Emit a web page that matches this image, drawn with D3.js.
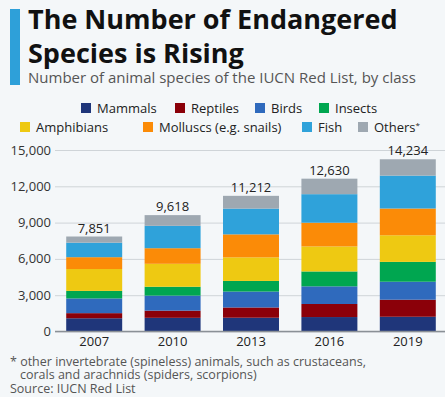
<!DOCTYPE html>
<html>
<head>
<meta charset="utf-8">
<script src="https://cdn.jsdelivr.net/npm/d3@7"></script>
<style>
  body { margin: 0; background: #f4f7f9; }
  svg { display: block; font-family: "Open Sans", sans-serif; }
</style>
</head>
<body>
<script>
// data
var years = ["2007", "2010", "2013", "2016", "2019"];
var classes = ["Mammals", "Reptiles", "Birds", "Insects", "Amphibians", "Molluscs (e.g. snails)", "Fish", "Others*"];
var mammals    = [1094, 1131, 1140, 1194, 1219];
var reptiles   = [422, 594, 847, 1079, 1409];
var birds      = [1217, 1240, 1313, 1460, 1486];
var insects    = [623, 733, 880, 1230, 1640];
var amphibians = [1808, 1898, 1948, 2068, 2200];
var molluscs   = [978, 1288, 1900, 1960, 2210];
var fish       = [1201, 1851, 2130, 2359, 2720];
var others     = [508, 883, 1054, 1280, 1350];
var totals     = [7851, 9618, 11212, 12630, 14234];
var yTicks     = [0, 3000, 6000, 9000, 12000, 15000];

var colors = ["#1f367a", "#8b0009", "#2f6abd", "#00a650", "#eec912", "#fb8b07", "#2fa2da", "#9ea8b1"];
var series = [mammals, reptiles, birds, insects, amphibians, molluscs, fish, others];

var W = 445, H = 397;
var svg = d3.select("body").append("svg").attr("width", W).attr("height", H);

svg.append("rect").attr("width", W).attr("height", H).attr("fill", "#f4f7f9");

// title block
svg.append("rect").attr("x", 10).attr("y", 9).attr("width", 10).attr("height", 76).attr("fill", "#2ea0d9");
svg.append("text").attr("x", 28).attr("y", 29).style("font-size", "27px").style("font-weight", "bold").attr("fill", "#111")
    .text("The Number of Endangered");
svg.append("text").attr("x", 28).attr("y", 63).style("font-size", "27px").style("font-weight", "bold").attr("fill", "#111")
    .text("Species is Rising");
svg.append("text").attr("x", 28).attr("y", 83).style("font-size", "15px").attr("fill", "#555")
    .text("Number of animal species of the IUCN Red List, by class");

// legend
var legendPos = [[81, 108], [175, 108], [255, 108], [319, 108], [20, 127], [143, 127], [302, 127], [358, 127]];
classes.forEach(function(c, i) {
  var g = svg.append("g").attr("transform", "translate(" + legendPos[i][0] + "," + legendPos[i][1] + ")");
  g.append("rect").attr("x", 0).attr("y", -5).attr("width", 10).attr("height", 10).attr("fill", colors[i]);
  g.append("text").attr("x", 16).attr("y", 0).attr("dy", "0.35em").style("font-size", "13px").attr("fill", "#222")
      .text(c.replace("*", ""))
    .filter(function() { return c.indexOf("*") >= 0; })
      .append("tspan").attr("dy", "-0.4em").style("font-size", "8px").text("*");
});

// scales
var x = d3.scaleBand().domain(years).range([55, 447]).paddingInner(0.286).paddingOuter(0.143);
var y = d3.scaleLinear().domain([0, 15000]).range([331.5, 150]);

// grid
svg.append("g")
    .attr("transform", "translate(55,0)")
    .call(d3.axisLeft(y).tickValues(yTicks).tickSize(-390).tickFormat(""))
    .call(function(g) { g.select(".domain").remove(); })
    .selectAll("line").attr("stroke", "#cfd4d8").attr("stroke-width", 1);

svg.append("g")
    .selectAll("text").data(yTicks).enter().append("text")
    .attr("x", 51).attr("y", function(d) { return y(d); }).attr("dy", "0.35em")
    .attr("text-anchor", "end").style("font-size", "13px").attr("fill", "#333")
    .text(d3.format(","));

// stacked bars
var rows = years.map(function(yr, j) {
  var r = { year: yr };
  classes.forEach(function(c, i) { r[c] = series[i][j]; });
  return r;
});
var stack = d3.stack().keys(classes)(rows);

svg.append("g").selectAll("g").data(stack).enter().append("g")
    .attr("fill", function(d, i) { return colors[i]; })
  .selectAll("rect").data(function(d) { return d; }).enter().append("rect")
    .attr("x", function(d) { return x(d.data.year); })
    .attr("width", x.bandwidth())
    .attr("y", function(d) { return y(d[1]); })
    .attr("height", function(d) { return y(d[0]) - y(d[1]); });

// totals
svg.append("g").selectAll("text").data(years).enter().append("text")
    .attr("x", function(d) { return x(d) + x.bandwidth() / 2; })
    .attr("y", function(d, i) { return y(totals[i]) - 4; })
    .attr("text-anchor", "middle").style("font-size", "13px").attr("fill", "#222")
    .text(function(d, i) { return d3.format(",")(totals[i]); });

// x axis
svg.append("line").attr("x1", 55).attr("x2", 445).attr("y1", 331.5).attr("y2", 331.5)
    .attr("stroke", "#8a9096").attr("stroke-width", 1.5);
svg.append("g").selectAll("text").data(years).enter().append("text")
    .attr("x", function(d) { return x(d) + x.bandwidth() / 2; })
    .attr("y", 346)
    .attr("text-anchor", "middle").style("font-size", "13px").attr("fill", "#222")
    .text(function(d) { return d; });

// notes
var notes = [["* other invertebrate (spineless) animals, such as crustaceans,", 10, 366],
             ["corals and arachnids (spiders, scorpions)", 20, 379],
             ["Source: IUCN Red List", 10, 393]];
notes.forEach(function(n) {
  svg.append("text").attr("x", n[1]).attr("y", n[2]).style("font-size", "12.5px").attr("fill", "#555").text(n[0]);
});
</script>
</body>
</html>
